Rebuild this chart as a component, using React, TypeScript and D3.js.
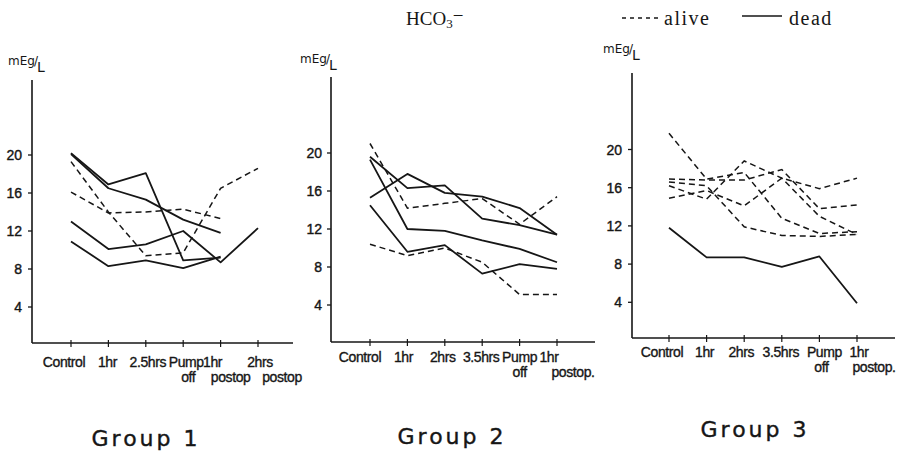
import React from "react";
import * as d3 from "d3";

// ---- data ----
const categories1 = ["Control", "1hr", "2.5hrs", "Pump off", "1hr postop", "2hrs postop"];
const categories2 = ["Control", "1hr", "2hrs", "3.5hrs", "Pump off", "1hr postop"];
const categories3 = ["Control", "1hr", "2hrs", "3.5hrs", "Pump off", "1hr postop"];

const tickLabels1 = [["Control"], ["1hr"], ["2.5hrs"], ["Pump", "off"], ["1hr", "postop"], ["2hrs", "postop"]];
const tickLabels2 = [["Control"], ["1hr"], ["2hrs"], ["3.5hrs"], ["Pump", "off"], ["1hr", "postop."]];
const tickLabels3 = [["Control"], ["1hr"], ["2hrs"], ["3.5hrs"], ["Pump", "off"], ["1hr", "postop."]];

const yTickValues = [4, 8, 12, 16, 20];

const group1Dead = [
  [20.2, 16.9, 18.1, 8.9, 9.2],
  [20.1, 16.5, 15.3, 13.2, 11.8],
  [13.0, 10.1, 10.6, 12.0, 8.7, 12.3],
  [10.9, 8.3, 8.9, 8.1, 9.3],
];
const group1Alive = [
  [19.3, 14.0, 9.4, 9.7, 16.5, 18.6],
  [16.1, 13.9, 14.0, 14.3, 13.3],
];

const group2Dead = [
  [19.6, 16.3, 16.6, 13.1, 12.4, 11.4],
  [15.3, 17.8, 15.8, 15.4, 14.2, 11.4],
  [19.3, 12.0, 11.8, 10.8, 9.9, 8.5],
  [14.5, 9.6, 10.3, 7.3, 8.3, 7.8],
];
const group2Alive = [
  [21.0, 14.2, 14.7, 15.2, 12.5, 15.4],
  [10.4, 9.2, 10.0, 8.5, 5.1, 5.1],
];

const group3Dead = [[11.8, 8.7, 8.7, 7.7, 8.8, 3.9]];
const group3Alive = [
  [21.7, 16.9, 17.6, 12.8, 11.2, 11.4],
  [16.9, 16.8, 16.8, 17.9, 13.8, 14.2],
  [16.6, 16.2, 11.9, 11.0, 10.9, 11.1],
  [14.9, 15.7, 14.1, 17.0, 15.9, 17.0],
  [16.2, 14.8, 18.8, 17.0, 13.0, 11.1],
];

const groupTitles = ["Group 1", "Group 2", "Group 3"];

// ---- layout (positions & styles) ----
const INK = "#161616";
const LABEL_FONT = "'Liberation Sans', Arial, sans-serif";
const TITLE_FONT = "'DejaVu Sans', 'Liberation Sans', sans-serif";
const SERIF = "'Liberation Serif', 'DejaVu Serif', serif";

type Layout = {
  axisX: number; axisY: number; axisTop: number; axisRight: number;
  y0: number; y20: number; xFirst: number; xLast: number;
  line1: number; line2: number;
  dx1: number[]; dx2: number[];
  yLabelRight: number;
  unitX: number; unitY: number;
  titleX: number; titleY: number;
};

const layouts: Layout[] = [
  {
    axisX: 32, axisY: 343, axisTop: 80, axisRight: 293,
    y0: 345, y20: 155, xFirst: 71, xLast: 258,
    line1: 367, line2: 382,
    dx1: [-7, -1, 2, 3, -8, 2], dx2: [0, 0, 0, 5, 10, 24],
    yLabelRight: 22, unitX: 8, unitY: 65, titleX: 146, titleY: 446,
  },
  {
    axisX: 331, axisY: 342, axisTop: 77, axisRight: 595,
    y0: 343, y20: 153, xFirst: 370, xLast: 557,
    line1: 362, line2: 377,
    dx1: [-10, -4, -2, -1, 0, -8], dx2: [0, 0, 0, 0, 0, 16],
    yLabelRight: 322, unitX: 300, unitY: 63, titleX: 452, titleY: 444,
  },
  {
    axisX: 632, axisY: 338, axisTop: 73, axisRight: 895,
    y0: 340.5, y20: 149.5, xFirst: 669, xLast: 857,
    line1: 357, line2: 372,
    dx1: [-7, -2, -3, -1, 5, 2], dx2: [0, 0, 0, 0, 2, 17],
    yLabelRight: 622, unitX: 603, unitY: 53, titleX: 755, titleY: 437,
  },
];

type PanelProps = {
  layout: Layout;
  categories: string[];
  labels: string[][];
  dead: number[][];
  alive: number[][];
  title: string;
};

function Panel({ layout: L, categories, labels, dead, alive, title }: PanelProps) {
  const x = d3.scalePoint<string>().domain(categories).range([L.xFirst, L.xLast]);
  const y = d3.scaleLinear().domain([0, 20]).range([L.y0, L.y20]);
  const line = d3
    .line<number>()
    .x((_, i) => x(categories[i]) as number)
    .y((d) => y(d));

  return (
    <g>
      {/* axes */}
      <line x1={L.axisX} x2={L.axisX} y1={L.axisTop} y2={L.axisY} stroke={INK} strokeWidth={1.6} />
      <line x1={L.axisX} x2={L.axisRight} y1={L.axisY} y2={L.axisY} stroke={INK} strokeWidth={1.6} />
      {yTickValues.map((v) => (
        <g key={v}>
          <line x1={L.axisX - 4} x2={L.axisX} y1={y(v)} y2={y(v)} stroke={INK} strokeWidth={1.3} />
          <text
            x={L.yLabelRight}
            y={y(v) + 5}
            textAnchor="end"
            fontFamily={LABEL_FONT}
            fontSize={14}
            fill={INK}
            stroke={INK}
            strokeWidth={0.4}
          >
            {v}
          </text>
        </g>
      ))}
      {categories.map((c, i) => {
        const cx = x(c) as number;
        return (
          <g key={c}>
            <line x1={cx} x2={cx} y1={L.axisY - 3} y2={L.axisY + 4} stroke={INK} strokeWidth={1.2} />
            <text
              textAnchor="middle"
              fontFamily={LABEL_FONT}
              fontSize={14}
              letterSpacing={-0.4}
              fill={INK}
              stroke={INK}
              strokeWidth={0.35}
            >
              {labels[i].map((t, j) => (
                <tspan
                  key={j}
                  x={cx + (j === 0 ? L.dx1[i] : L.dx2[i])}
                  y={j === 0 ? L.line1 : L.line2}
                >
                  {t}
                </tspan>
              ))}
            </text>
          </g>
        );
      })}
      {/* unit label */}
      <text x={L.unitX} y={L.unitY} fontFamily={TITLE_FONT} fontSize={12} fill={INK}>
        mEg
        <tspan dx={-1} dy={0}>/</tspan>
        <tspan dx={-1} dy={7} fontSize={14}>L</tspan>
      </text>
      {/* series */}
      {dead.map((s, i) => (
        <path key={`d${i}`} d={line(s) || ""} fill="none" stroke={INK} strokeWidth={1.8} strokeLinejoin="round" />
      ))}
      {alive.map((s, i) => (
        <path
          key={`a${i}`}
          d={line(s) || ""}
          fill="none"
          stroke={INK}
          strokeWidth={1.5}
          strokeDasharray="6,4"
        />
      ))}
      {/* title */}
      <text
        x={L.titleX}
        y={L.titleY}
        textAnchor="middle"
        fontFamily={TITLE_FONT}
        fontSize={22}
        letterSpacing={3}
        fill={INK}
        stroke={INK}
        strokeWidth={0.4}
      >
        {title}
      </text>
    </g>
  );
}

export default function App() {
  const panels = [
    { categories: categories1, labels: tickLabels1, dead: group1Dead, alive: group1Alive },
    { categories: categories2, labels: tickLabels2, dead: group2Dead, alive: group2Alive },
    { categories: categories3, labels: tickLabels3, dead: group3Dead, alive: group3Alive },
  ];
  return (
    <svg
      width={900}
      height={451}
      viewBox="0 0 900 451"
      style={{ position: "absolute", left: 0, top: 0, background: "#fff" }}
    >
      <rect x={0} y={0} width={900} height={451} fill="#fff" />
      {/* header */}
      <text x={406} y={25} fontFamily={SERIF} fontSize={19} fill={INK}>
        HCO
        <tspan fontSize={13} dy={3}>3</tspan>
        <tspan dy={-6}>−</tspan>
      </text>
      <line x1={622} x2={658} y1={18} y2={18} stroke={INK} strokeWidth={1.3} strokeDasharray="4,4" />
      <text x={664} y={25} fontFamily={SERIF} fontSize={20} letterSpacing={1.5} fill={INK}>
        alive
      </text>
      <line x1={742} x2={782} y1={16} y2={16} stroke={INK} strokeWidth={1.3} />
      <text x={789} y={25} fontFamily={SERIF} fontSize={20} letterSpacing={1.5} fill={INK}>
        dead
      </text>
      {panels.map((p, i) => (
        <Panel key={i} layout={layouts[i]} title={groupTitles[i]} {...p} />
      ))}
    </svg>
  );
}
